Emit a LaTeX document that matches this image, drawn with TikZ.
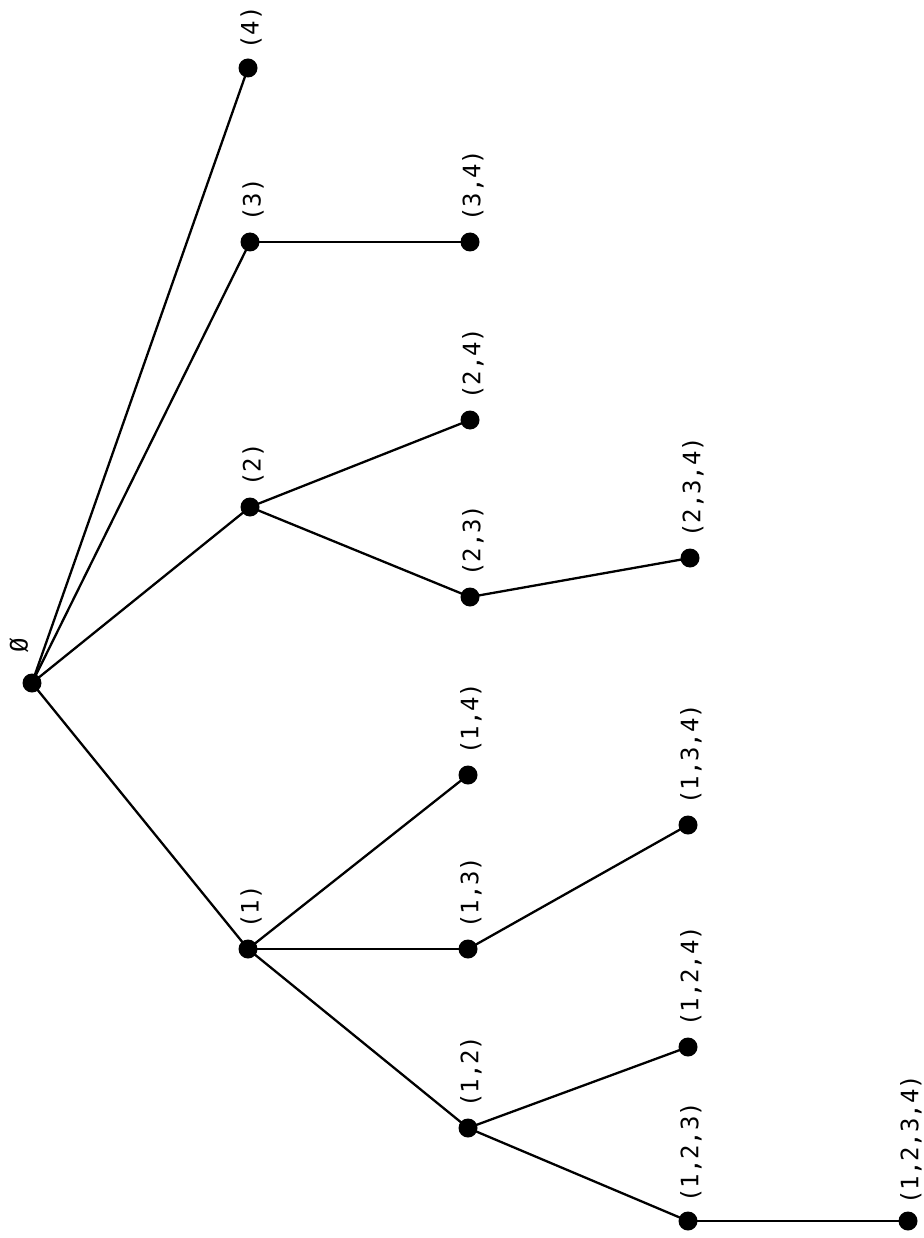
\documentclass[tikz,border=0pt]{standalone}
\usepackage{fontspec}
\newfontfamily\lblfont{DejaVu Sans Mono}
\begin{document}
\begin{tikzpicture}[x=1pt,y=-1pt,
  dot/.style={circle,fill=black,inner sep=0pt,minimum size=19pt},
  edge/.style={line width=2.3pt},
  lbl/.style={rotate=90,anchor=west,inner sep=0pt,font=\fontsize{24pt}{28pt}\lblfont}]
\useasboundingbox (0,0) rectangle (923,1238);
\node[dot] (e) at (32,683) {};
\node[dot] (n4) at (248,68) {};
\node[dot] (n3) at (250,242) {};
\node[dot] (n34) at (470,242) {};
\node[dot] (n2) at (250,507) {};
\node[dot] (n24) at (470,420) {};
\node[dot] (n23) at (470,597) {};
\node[dot] (n234) at (690,558) {};
\node[dot] (n1) at (248,949) {};
\node[dot] (n14) at (468,775) {};
\node[dot] (n13) at (468,949) {};
\node[dot] (n134) at (688,825) {};
\node[dot] (n12) at (468,1128) {};
\node[dot] (n124) at (688,1047) {};
\node[dot] (n123) at (688,1221) {};
\node[dot] (n1234) at (908,1221) {};
\draw[edge] (e.center) -- (n4.center);
\draw[edge] (e.center) -- (n3.center);
\draw[edge] (e.center) -- (n2.center);
\draw[edge] (e.center) -- (n1.center);
\draw[edge] (n3.center) -- (n34.center);
\draw[edge] (n2.center) -- (n24.center);
\draw[edge] (n2.center) -- (n23.center);
\draw[edge] (n23.center) -- (n234.center);
\draw[edge] (n1.center) -- (n14.center);
\draw[edge] (n1.center) -- (n13.center);
\draw[edge] (n1.center) -- (n12.center);
\draw[edge] (n13.center) -- (n134.center);
\draw[edge] (n12.center) -- (n124.center);
\draw[edge] (n12.center) -- (n123.center);
\draw[edge] (n123.center) -- (n1234.center);
\node[lbl] (le) at (19,653) {Ø};
\node[lbl] (l4) at (251,50) {(4)};
\node[lbl] (l3) at (253,222) {(3)};
\node[lbl] (l34) at (473,222) {(3,4)};
\node[lbl] (l2) at (253,487) {(2)};
\node[lbl] (l24) at (473,400) {(2,4)};
\node[lbl] (l23) at (473,577) {(2,3)};
\node[lbl] (l234) at (693,538) {(2,3,4)};
\node[lbl] (l1) at (251,929) {(1)};
\node[lbl] (l14) at (471,755) {(1,4)};
\node[lbl] (l13) at (471,929) {(1,3)};
\node[lbl] (l134) at (691,805) {(1,3,4)};
\node[lbl] (l12) at (471,1108) {(1,2)};
\node[lbl] (l124) at (691,1027) {(1,2,4)};
\node[lbl] (l123) at (691,1203) {(1,2,3)};
\node[lbl] (l1234) at (911,1205) {(1,2,3,4)};
\end{tikzpicture}
\end{document}
